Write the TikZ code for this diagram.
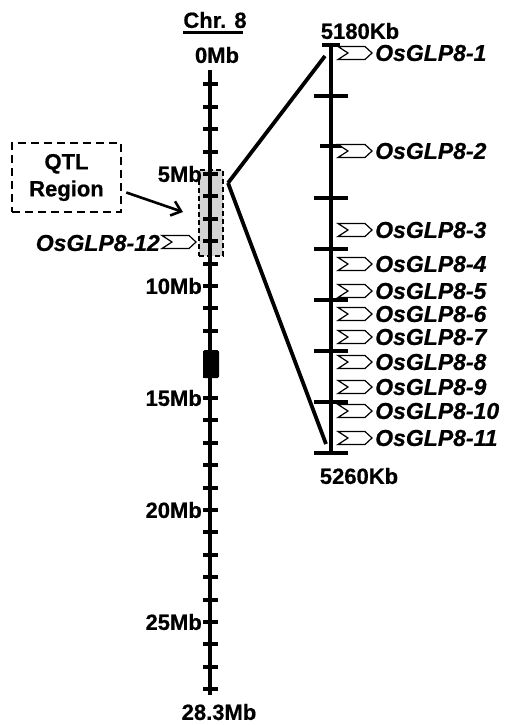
\documentclass[tikz,border=0pt]{standalone}
\usepackage{fontspec}
\setmainfont{Liberation Sans}[BoldFeatures={FakeBold=0.6},BoldItalicFeatures={FakeBold=0.6}]
\usetikzlibrary{arrows.meta}
\tikzset{
  lbl/.style={font=\fontsize{22}{27}\selectfont\bfseries, inner sep=0pt},
  gl/.style={font=\fontsize{23}{26}\selectfont\bfseries\itshape, inner sep=0pt, anchor=west},
  tickmark/.style={line width=4pt},
  axisline/.style={line width=4.5pt},
  zoomline/.style={line width=3.8pt},
  gene/.pic={\draw[line width=1.2pt, fill=white, line join=miter] (0,-6.5) -- (27,-6.5) -- (34,0) -- (27,6.5) -- (0,6.5) -- (10,0) -- cycle;}
}
\begin{document}
\begin{tikzpicture}[x=1pt,y=-1pt]
\useasboundingbox[fill=white] (0,0) rectangle (504,725);
% QTL region shading
\node[draw, fill=black!17, dash pattern=on 5pt off 3pt, line width=1.6pt, minimum width=24pt, minimum height=86pt, inner sep=0pt] (qtlr) at (211,213) {};
% main chromosome
\draw[axisline] (210,70) coordinate (ctop) -- (210,695) coordinate (cbot);
\foreach \i in {1,...,28}{
  \draw[tickmark] (203,62+22.4*\i) -- (218,62+22.4*\i);
}
\node[fill=black, rounded corners=1.5pt, minimum width=16pt, minimum height=28pt, inner sep=0pt] (cen) at (211,364) {};
% labels
\node[lbl] (chr) at (215,20) {Chr. 8};
\draw[line width=2.6pt] ([yshift=-4pt]chr.south west) -- ([yshift=-4pt,xshift=-4pt]chr.south east);
\node[lbl] (m0) at (217,55) {0Mb};
\foreach \k/\t in {5/5Mb,10/10Mb,15/15Mb,20/20Mb,25/25Mb}{
  \node[lbl, anchor=east] (m\k) at (202,62+22.4*\k) {\t};
}
\node[lbl] (mend) at (219,712) {28.3Mb};
% QTL box
\node[lbl, draw, dash pattern=on 8pt off 5pt, line width=2.6pt, minimum width=109pt, minimum height=69pt, align=center] (qtl) at (66.5,177.5) {QTL\\Region};
\coordinate (qtip) at (183,212);
\draw[line width=2.6pt, -{Straight Barb[length=9pt,width=15pt,line width=2.6pt]}] ([shift={(4,15)}]qtl.east) -- (qtip);
% OsGLP8-12
\pic at (162,242) {gene};
\node[gl, anchor=east] (g12) at (160,243) {OsGLP8-12};
% expanded axis
\draw[axisline] (331,45) coordinate (etop) -- (331,453) coordinate (ebot);
\draw[tickmark] (322,45) -- (340,45);
\draw[tickmark] (320,146) -- (348,146);
\foreach \y in {96,198,249,300,351,402,453}{
  \draw[tickmark] (314,\y) -- (348,\y);
}
\node[lbl] (kb1) at (360,31) {5180Kb};
\node[lbl] (kb2) at (359,476) {5260Kb};
% zoom lines
\coordinate (apex) at (228,183);
\coordinate (ztop) at (325,56);
\coordinate (zbot) at (326,444);
\draw[zoomline] (apex) -- (ztop);
\draw[zoomline] (apex) -- (zbot);
% genes
\foreach \n/\y in {1/53,2/151,3/230,4/264,5/291,6/314,7/337,8/362,9/387,10/411,11/438}{
  \pic at (338,\y) {gene};
  \node[gl] (g\n) at (375,\y) {OsGLP8-\n};
}
\end{tikzpicture}
\end{document}
